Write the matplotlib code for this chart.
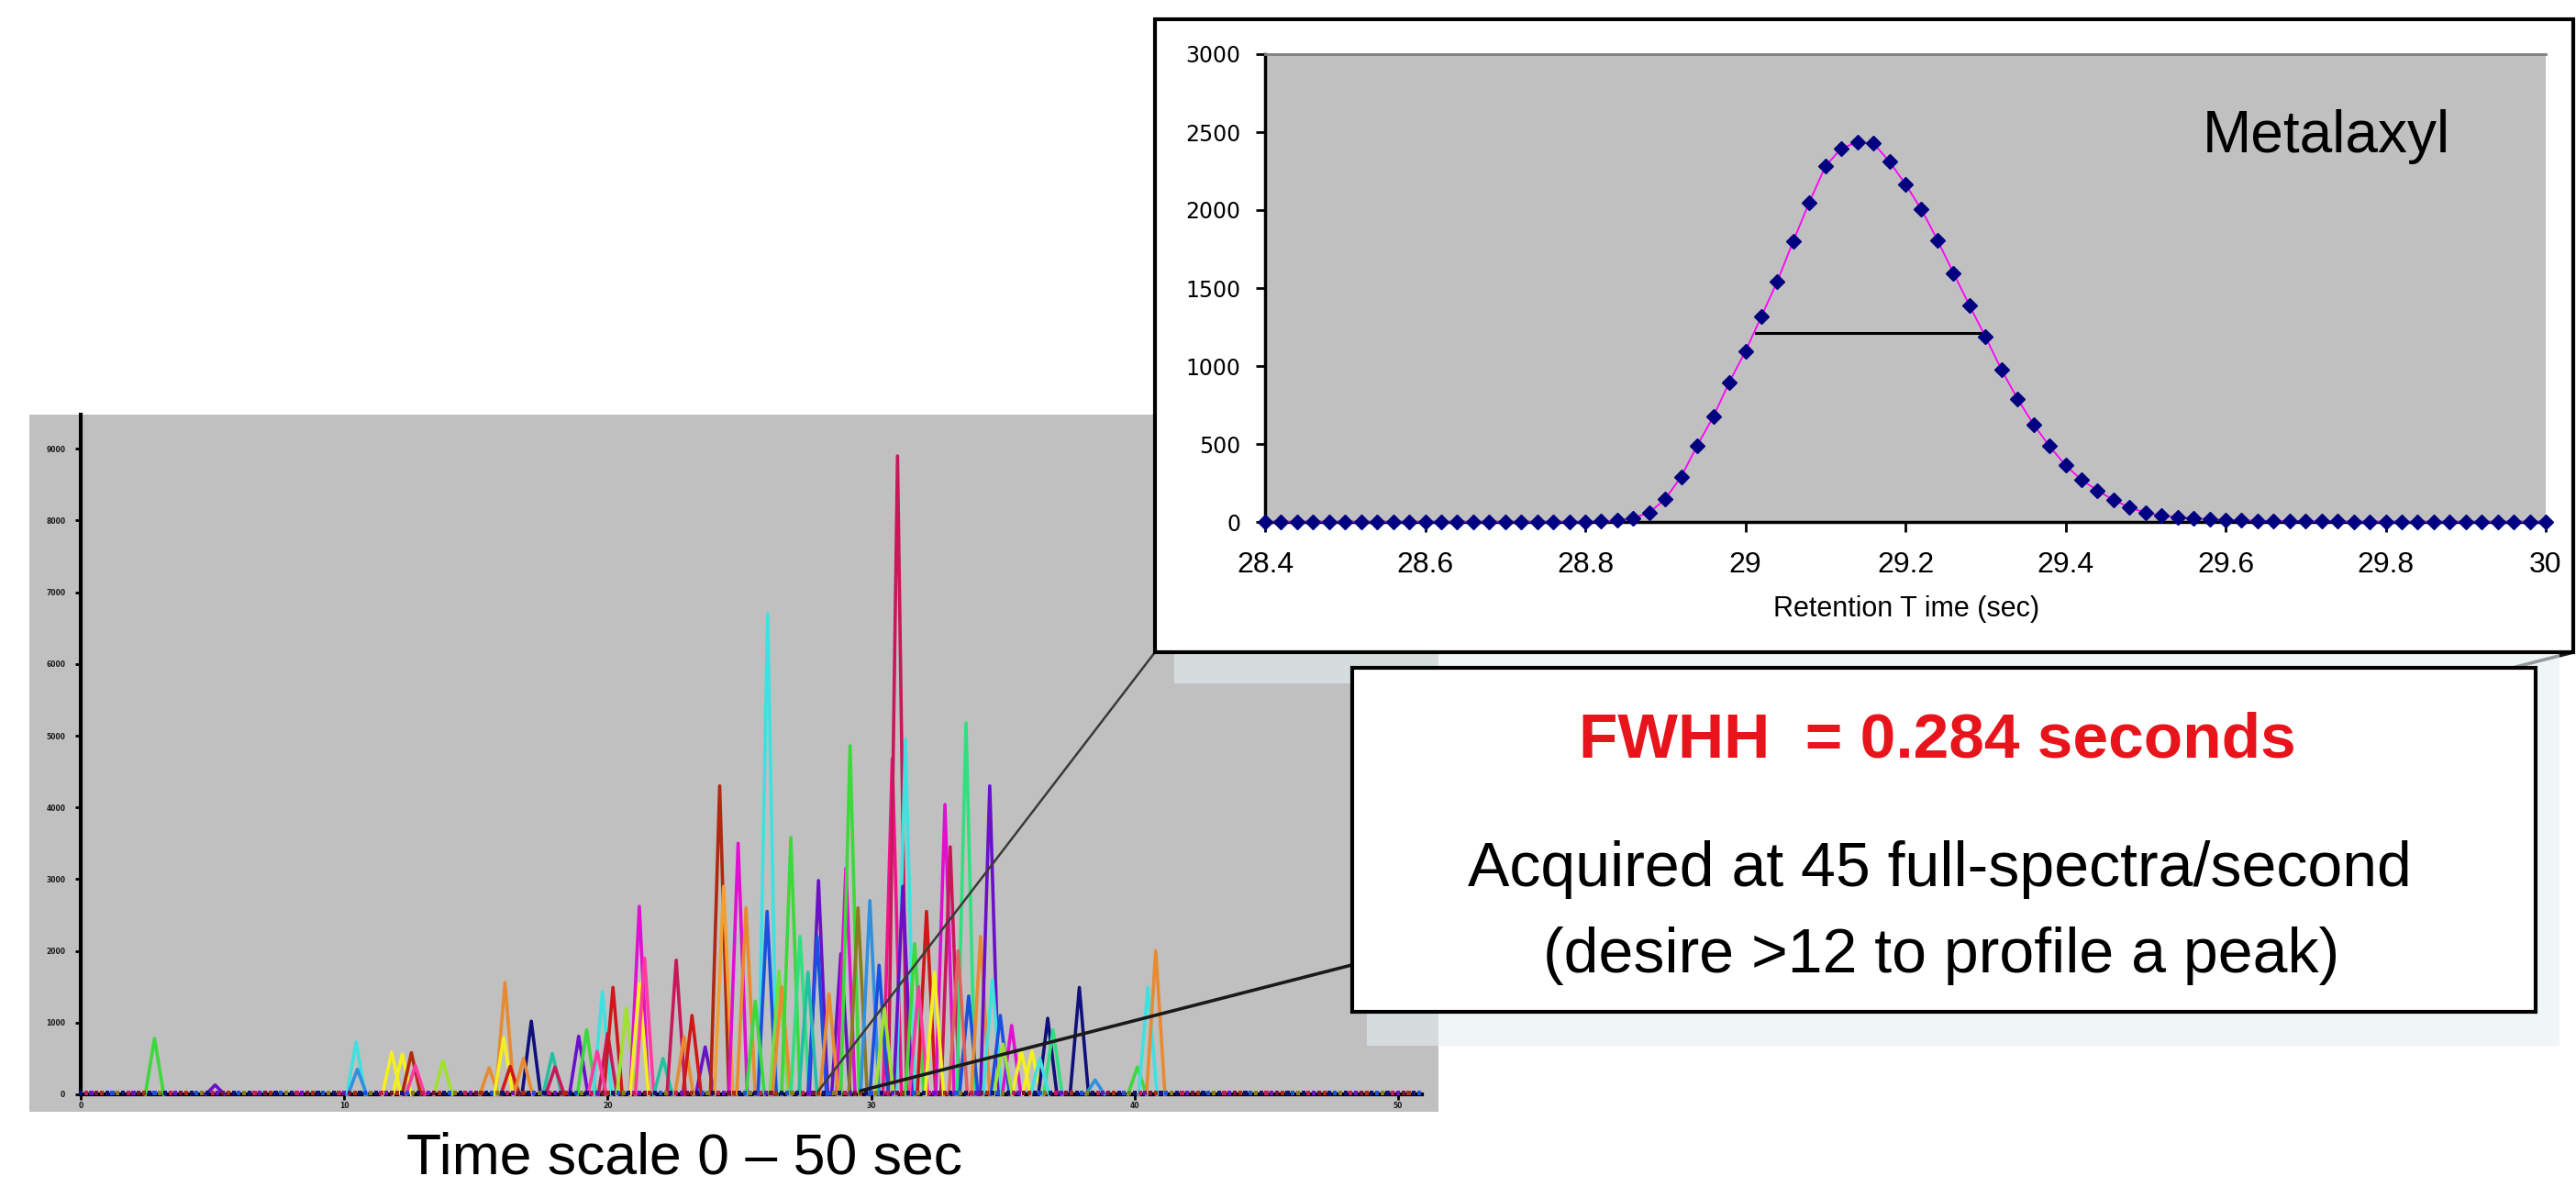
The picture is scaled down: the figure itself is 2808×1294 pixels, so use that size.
import numpy as np
import matplotlib
matplotlib.use("Agg")
import matplotlib.pyplot as plt
from matplotlib.patches import Rectangle, Polygon, ConnectionPatch

plt.rcParams['font.family'] = ['Liberation Sans', 'DejaVu Sans']

W, H = 2808, 1294

# colours of the individual ion traces
GREEN = '#3cd83c'
PURPLE = '#6a10c8'
CYAN = '#40e0e0'
BLUE = '#1a4fe0'
YELLOW = '#f4f020'
RED = '#d01818'
CRIMSON = '#c8185a'
MAGENTA = '#e010d0'
ORANGE = '#e88a30'
NAVY = '#10107a'
TEAL = '#20c0a0'
YGREEN = '#a0e030'
SPRING = '#30e080'
PINK = '#ff3aa0'
OLIVE = '#8a7a20'
BROWN = '#b02810'
SKY = '#3090e0'
HOTPINK = '#f0148c'

# main chromatogram: apex time (s), apex height, trace colour
peak_times = [2.8, 5.1, 10.45, 10.5, 11.8, 12.2, 12.55, 12.7, 13.75, 15.5,
              16.1, 16.05, 16.3, 17.1, 17.9, 18.0, 18.9, 19.2, 19.8, 20.0,
              20.2, 20.7, 21.2, 21.2, 21.4, 22.1, 22.6, 23.7, 24.25, 24.4,
              24.95, 25.25, 26.07, 26.05, 26.5, 26.6, 26.95, 27.3, 28.0, 27.95,
              28.85, 29.04, 29.2, 29.5, 29.95, 30.8, 31.0, 31.3, 31.2, 31.65,
              32.1, 32.8, 33.0, 33.6, 33.7, 34.15, 34.5, 34.6, 35.33, 35.7,
              36.1, 36.7, 36.9, 37.9, 38.5, 40.1, 40.5, 40.8,
              16.8, 19.6, 22.9, 23.2, 25.6, 27.6, 28.4, 30.3, 30.5, 31.8,
              32.4, 33.3, 34.9, 35.0, 36.4]
peak_heights = [780, 130, 730, 350, 590, 560, 580, 400, 470, 370,
                1560, 790, 390, 1020, 570, 380, 810, 900, 1430, 850,
                1490, 1200, 2620, 1540, 1900, 500, 1870, 660, 4300, 2900,
                3500, 2600, 6700, 2550, 1720, 1500, 3580, 2200, 2980, 2200,
                1960, 3150, 4860, 2600, 2700, 4680, 8900, 4950, 2900, 2100,
                2550, 4040, 3450, 5180, 1370, 2200, 4300, 1600, 960, 600,
                600, 1060, 900, 1490, 200, 380, 1490, 2000,
                500, 600, 800, 1100, 1300, 1700, 1400, 1800, 1200, 1500,
                1700, 2000, 1100, 700, 500]
peak_colors = [GREEN, PURPLE, CYAN, SKY, YELLOW, YELLOW, BROWN, PINK, YGREEN, ORANGE,
               ORANGE, YELLOW, RED, NAVY, TEAL, CRIMSON, PURPLE, GREEN, CYAN, CRIMSON,
               RED, YGREEN, MAGENTA, YELLOW, PINK, TEAL, CRIMSON, PURPLE, BROWN, '#f0a030',
               MAGENTA, ORANGE, CYAN, BLUE, '#70e040', ORANGE, GREEN, SPRING, PURPLE, BLUE,
               PURPLE, MAGENTA, GREEN, OLIVE, SKY, HOTPINK, CRIMSON, CYAN, PURPLE, GREEN,
               RED, MAGENTA, CRIMSON, SPRING, BLUE, ORANGE, PURPLE, CYAN, MAGENTA, YELLOW,
               YELLOW, NAVY, SPRING, NAVY, SKY, GREEN, CYAN, ORANGE,
               ORANGE, PINK, ORANGE, RED, GREEN, TEAL, ORANGE, BLUE, YGREEN, PINK,
               YELLOW, '#e06060', BLUE, YGREEN, CYAN]
HALF_WIDTH = 0.35

baseline_times = np.arange(0.0, 50.9, 0.2)
baseline_colors = [NAVY, CRIMSON, PURPLE, '#7a1040', BROWN, NAVY, BLUE, OLIVE]

main_yticks = [0, 1000, 2000, 3000, 4000, 5000, 6000, 7000, 8000, 9000]
main_xticks = [0, 10, 20, 30, 40, 50]
zoom_window = (28.0, 29.6)

# Metalaxyl peak, one point per scan
scan_times = np.linspace(28.4, 30.0, 81)
metalaxyl_counts = [0] * 21 + [
    3, 10, 25, 59, 148, 291, 491, 675, 896, 1093,
    1317, 1543, 1802, 2050, 2280, 2396, 2434, 2428, 2312, 2166,
    2005, 1808, 1597, 1389, 1187, 977, 790, 626, 486, 364,
    270, 202, 140, 94, 59, 40, 32, 22, 19, 13,
    11, 8, 6, 5, 4, 3, 3, 2, 2, 1,
    1, 1] + [0] * 8
fwhh_left, fwhh_right, fwhh_level = 29.013, 29.297, 1214
inset_xticks = [28.4, 28.6, 28.8, 29.0, 29.2, 29.4, 29.6, 29.8, 30.0]
inset_yticks = [0, 500, 1000, 1500, 2000, 2500, 3000]


def fx(x):
    return x / W


def fy(y):
    return 1 - y / H


fig = plt.figure(figsize=(W / 100, H / 100), dpi=100)

# ---- main chromatogram ----
ax = fig.add_axes([fx(32), fy(1212), (1568 - 32) / W, (1212 - 452) / H])
ax.set_zorder(0)
ax.set_facecolor('#c0c0c0')
ax.set_xlim(-1.95, 51.53)
ax.set_ylim(-243, 9476)

for t, h, c in zip(peak_times, peak_heights, peak_colors):
    ax.plot([t - HALF_WIDTH, t, t + HALF_WIDTH], [0, h, 0], color=c, lw=2.6,
            solid_joinstyle='round', zorder=2)

bcols = [baseline_colors[i % len(baseline_colors)] for i in range(len(baseline_times))]
ax.scatter(baseline_times, np.full(len(baseline_times), 20), c=bcols, marker='s', s=9,
           linewidths=0, zorder=3)

ax.spines['top'].set_visible(False)
ax.spines['right'].set_visible(False)
ax.spines['left'].set_position(('data', 0))
ax.spines['left'].set_bounds(0, 9476)
ax.spines['bottom'].set_position(('data', 0))
ax.spines['bottom'].set_bounds(0, 50.9)
for s in ['left', 'bottom']:
    ax.spines[s].set_linewidth(3)
    ax.spines[s].set_zorder(1.5)

ax.set_yticks(main_yticks)
ax.set_yticklabels([str(v) for v in main_yticks])
ax.set_xticks(main_xticks)
ax.set_xticklabels([str(v) for v in main_xticks])
ax.tick_params(axis='y', direction='out', length=4, width=2, pad=8, labelsize=5.5,
               labelcolor='#1a1a1a')
ax.tick_params(axis='x', direction='out', length=4, width=2, pad=2, labelsize=5.5,
               labelcolor='#1a1a1a')
for lab in ax.get_xticklabels() + ax.get_yticklabels():
    lab.set_fontweight('bold')
    lab.set_family('DejaVu Sans')

fig.text(fx(746), fy(1279), 'Time scale 0 \u2013 50 sec', fontsize=45,
         ha='center', va='baseline')

# ---- zoom lines ----
con1 = ConnectionPatch(xyA=(zoom_window[0], 50), coordsA='data', axesA=ax,
                       xyB=(fx(1259), fy(711)), coordsB='figure fraction',
                       color='#3a3a3a', lw=1.8, zorder=2)
con2 = ConnectionPatch(xyA=(zoom_window[1], 50), coordsA='data', axesA=ax,
                       xyB=(fx(2805), fy(711)), coordsB='figure fraction',
                       color='#1a1a1a', lw=2.6, zorder=2)
fig.add_artist(con1)
fig.add_artist(con2)

# light shadow behind the text box
glow = Polygon([(fx(1280), fy(712)), (fx(2790), fy(712)), (fx(2790), fy(1140)),
                (fx(1490), fy(1140)), (fx(1490), fy(745)), (fx(1280), fy(745))],
               closed=True, transform=fig.transFigure, facecolor='#e6eff2',
               edgecolor='none', alpha=0.6, zorder=2.5)
fig.add_artist(glow)

# ---- inset: Metalaxyl peak ----
box = Rectangle((fx(1259), fy(711)), (2805 - 1259) / W, (711 - 21) / H,
                transform=fig.transFigure, facecolor='white', edgecolor='black',
                lw=3, zorder=3)
fig.add_artist(box)

axi = fig.add_axes([fx(1379), fy(569), 1396 / W, 510 / H])
axi.set_zorder(4)
axi.set_facecolor('#c0c0c0')
axi.set_xlim(28.4, 30.0)
axi.set_ylim(0, 3000)
axi.plot(scan_times, metalaxyl_counts, color='#ff00ff', lw=1.3, zorder=3, clip_on=False)
axi.plot(scan_times, metalaxyl_counts, ls='none', marker='D', ms=8, color='#000080',
         zorder=4, clip_on=False)
axi.plot([fwhh_left, fwhh_right], [fwhh_level, fwhh_level], color='black', lw=2.2, zorder=2)
axi.text(29.571, 2370, 'Metalaxyl', fontsize=46, ha='left', va='baseline')

axi.spines['right'].set_visible(False)
axi.spines['top'].set_color('#808080')
axi.spines['top'].set_linewidth(2)
axi.spines['left'].set_linewidth(2.5)
axi.spines['bottom'].set_linewidth(2.5)
axi.set_xticks(inset_xticks)
axi.set_xticklabels([f'{v:g}' for v in inset_xticks])
axi.set_yticks(inset_yticks)
axi.set_yticklabels([str(v) for v in inset_yticks])
axi.tick_params(axis='x', direction='out', length=8, width=2, pad=15, labelsize=23)
axi.tick_params(axis='y', direction='out', length=7, width=2, pad=12, labelsize=17)
for lab in axi.get_yticklabels():
    lab.set_family('DejaVu Sans')

fig.text(fx(2078), fy(664), 'Retention T ime (sec)', fontsize=22, ha='center',
         va='center', zorder=6)

# ---- text box ----
tbox = Rectangle((fx(1474), fy(1103)), (2764 - 1474) / W, (1103 - 728) / H,
                 transform=fig.transFigure, facecolor='white', edgecolor='black',
                 lw=3, zorder=5)
fig.add_artist(tbox)
fig.text(fx(2112), fy(826), 'FWHH  = 0.284 seconds', color='#e8141c',
         fontweight='bold', fontsize=50, ha='center', va='baseline', zorder=6)
fig.text(fx(2114), fy(966), 'Acquired at 45 full-spectra/second', fontsize=49,
         ha='center', va='baseline', zorder=6)
fig.text(fx(2116), fy(1060), '(desire >12 to profile a peak)', fontsize=49,
         ha='center', va='baseline', zorder=6)

fig.savefig('out.png', dpi=100, facecolor='white')
